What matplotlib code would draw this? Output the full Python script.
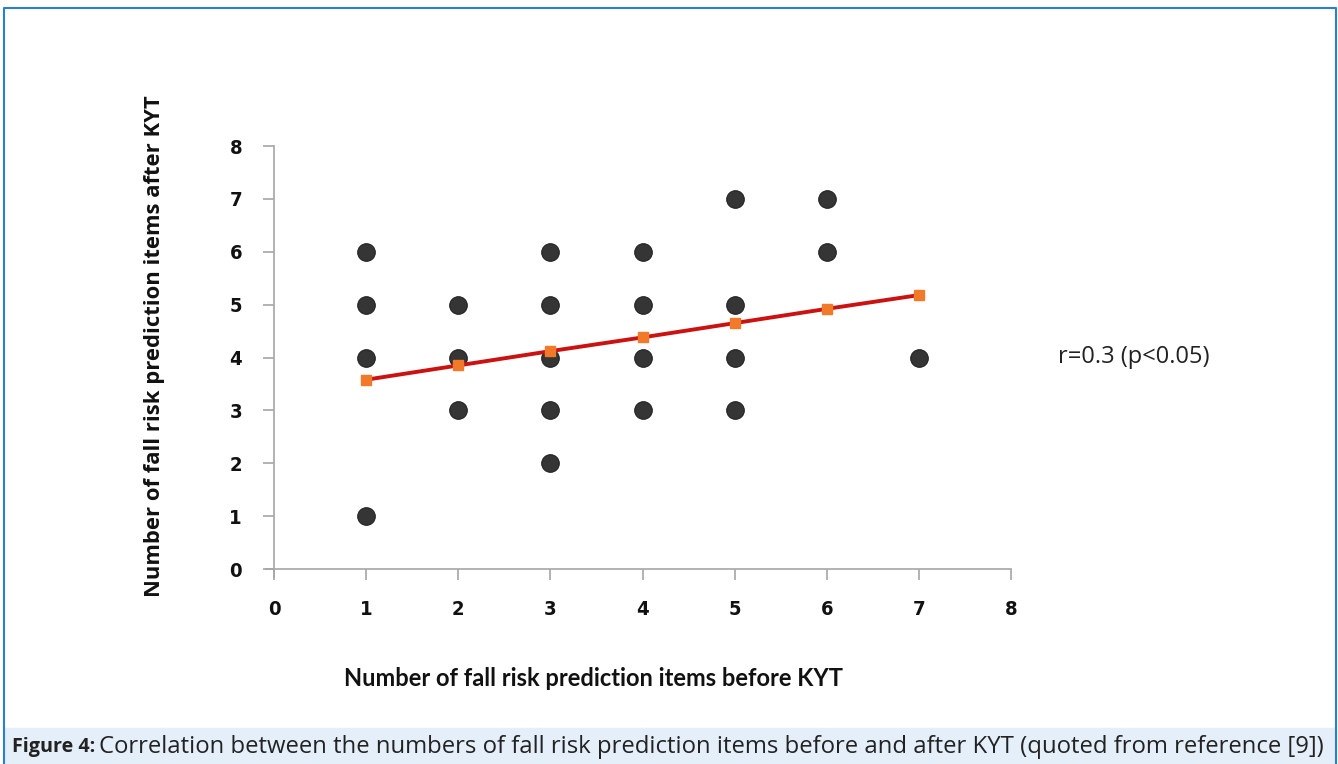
import matplotlib
matplotlib.use("Agg")
import matplotlib.pyplot as plt
from matplotlib.patches import Rectangle

# scatter data (before KYT, after KYT)
before = [1, 1, 1, 1, 2, 2, 2, 3, 3, 3, 3, 3, 4, 4, 4, 4, 5, 5, 5, 5, 6, 6, 7]
after = [6, 5, 4, 1, 5, 4, 3, 6, 5, 4, 3, 2, 6, 5, 4, 3, 7, 5, 4, 3, 7, 6, 4]

# regression line
fit_x = [1, 2, 3, 4, 5, 6, 7]
fit_y = [3.58, 3.85, 4.12, 4.38, 4.65, 4.92, 5.18]

ticks = [0, 1, 2, 3, 4, 5, 6, 7, 8]

W, H = 1338, 764
fig = plt.figure(figsize=(W / 100, H / 100), dpi=100)

def px(x, y):
    return x / W, 1 - y / H

# caption band and frame
fig.patches.append(Rectangle((4 / W, 0), 1332 / W, (764 - 728) / H,
                             transform=fig.transFigure, color="#e5eff9", zorder=0))
fig.add_artist(plt.Line2D([4 / W, 4 / W, 1336 / W, 1336 / W], [0, 1 - 8 / H, 1 - 8 / H, 0],
                          transform=fig.transFigure, color="#2a7fd0", lw=1.5))

# axes: x from -0.087 to 8, y from -0.15 to 8
x0, x1 = 266, 1011
y0, y1 = 577, 146
ax = fig.add_axes([x0 / W, 1 - y0 / H, (x1 - x0) / W, (y0 - y1) / H])
ax.set_xlim(-8 / 92.1, 8)
ax.set_ylim(-8 / 52.9, 8)
ax.patch.set_alpha(0)

ax.scatter(before, after, s=160, color="#353535", edgecolor="#222222", linewidth=0.8, zorder=3)
ax.plot(fit_x, fit_y, color="#cc1111", lw=2.8, marker="s", markersize=7,
        markerfacecolor="#f07a2a", markeredgecolor="#f07a2a", zorder=4)

for s in ["top", "right"]:
    ax.spines[s].set_visible(False)
ax.spines["left"].set_position(("data", 0))
ax.spines["bottom"].set_position(("data", 0))
ax.spines["left"].set_bounds(-8 / 52.9, 8)
ax.spines["bottom"].set_bounds(-8 / 92.1, 8)
for s in ["left", "bottom"]:
    ax.spines[s].set_color("#a6a6a6")
    ax.spines[s].set_linewidth(1.2)

ax.set_xticks(ticks)
ax.set_yticks(ticks)
ax.tick_params(direction="out", length=8, width=1.2, color="#a6a6a6", labelsize=14.5)
ax.tick_params(axis="x", pad=14)
ax.tick_params(axis="y", pad=15)
for lab in ax.get_xticklabels() + ax.get_yticklabels():
    lab.set_fontfamily("DejaVu Sans")
    lab.set_fontstretch("condensed")
    lab.set_fontweight("bold")
    lab.set_color("#111111")

fig.text(*px(593, 679), "Number of fall risk prediction items before KYT", ha="center", va="center",
         fontsize=17, fontweight="bold", family="Lato", color="#111111")
fig.text(*px(155, 346), "Number of fall risk prediction items after KYT", ha="center", va="center",
         rotation=90, fontsize=15.8, fontweight="bold", family="Open Sans", color="#111111")
fig.text(*px(1058, 357), "r=0.3 (p<0.05)", ha="left", va="center",
         fontsize=17, family="Open Sans", color="#222222")

fig.text(*px(12, 747), "Figure 4:", ha="left", va="center", fontsize=14.2,
         fontweight="bold", family="Open Sans", color="#222222")
fig.text(*px(99, 747), "Correlation between the numbers of fall risk prediction items before and after KYT (quoted from reference [9])",
         ha="left", va="center", fontsize=17.2, family="Open Sans", color="#222222")

fig.savefig("out.png", dpi=100)
